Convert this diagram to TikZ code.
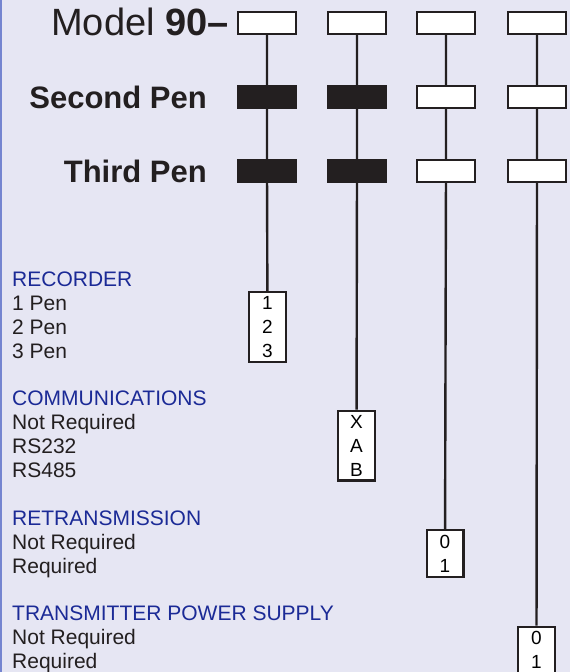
\documentclass[tikz,border=0pt]{standalone}
\usepackage{fontspec}
\setmainfont{Liberation Sans}
\usetikzlibrary{positioning}
\definecolor{pagebg}{HTML}{E6E6F3}
\definecolor{ink}{HTML}{231F20}
\definecolor{headblue}{HTML}{1B2A96}
\definecolor{edgeblue}{HTML}{7585D0}
\tikzset
{
  slot/.style={draw=ink,line width=2.4pt,fill=white,minimum width=57.6pt,minimum height=21.6pt,inner sep=0pt},
  slotfixed/.style={slot,fill=ink},
  code/.style={draw=ink,line width=2.4pt,fill=white,minimum width=36.6pt,inner sep=0pt,align=center,
    font=\fontsize{19}{24}\selectfont},
  link/.style={draw=ink,line width=2.4pt},
  group/.style={anchor=base west,inner sep=0pt,align=left,text=ink,font=\fontsize{21}{23.7}\selectfont},
  title/.style={anchor=base east,inner sep=0pt,text=ink}
}

\begin{document}
\begin{tikzpicture}[x=1pt,y=-1pt]

    % Page and its left edge
    \fill[pagebg] (0,0) rectangle (570,672);
    \useasboundingbox (0,0) rectangle (570,672);
    \draw[edgeblue,line width=1.5pt] (0.75,0) -- (0.75,672);

    % Titles of the three rows
    \node[title,font=\fontsize{38}{38}\selectfont] (model) at (229,35) {Model \textbf{90--}};
    \node[title,font=\bfseries\fontsize{31}{31}\selectfont] (second) at (207,108) {Second Pen};
    \node[title,font=\bfseries\fontsize{31}{31}\selectfont] (third) at (207,182) {Third Pen};

    % First row: one box for each digit
    \node[slot] (top1) at (267,23) {};
    \node[slot] (top2) at (357,23) {};
    \node[slot] (top3) at (446,23) {};
    \node[slot] (top4) at (537,23) {};

    % Second pen row
    \node[slotfixed] (sec1) at (267,97) {};
    \node[slotfixed] (sec2) at (357,97) {};
    \node[slot] (sec3) at (446,97) {};
    \node[slot] (sec4) at (537,97) {};

    % Third pen row
    \node[slotfixed] (thr1) at (267,171) {};
    \node[slotfixed] (thr2) at (357,171) {};
    \node[slot] (thr3) at (446,171) {};
    \node[slot] (thr4) at (537,171) {};

    % Option codes
    \node[code,minimum height=69.6pt] (rec) at (267.5,327) {1\\2\\3};
    \node[code,minimum height=69.6pt] (com) at (356.5,445.5) {X\\A\\B};
    \node[code,minimum height=46.6pt] (ret) at (445,553.5) {0\\1};
    \node[code,minimum height=46.6pt] (psu) at (536.5,650) {0\\1};

    % Columns down to their codes
    \draw[link] (top1) -- (sec1) -- (thr1) -- (rec);
    \draw[link] (top2) -- (sec2) -- (thr2) -- (com);
    \draw[link] (top3) -- (sec3) -- (thr3) -- (ret);
    \draw[link] (top4) -- (sec4) -- (thr4) -- (psu);

    % Option lists (placed by the baseline of their last line)
    \node[group] (reclist) at (12,358) {\textcolor{headblue}{RECORDER}\\1 Pen\\2 Pen\\3 Pen};
    \node[group] (comlist) at (12,477) {\textcolor{headblue}{COMMUNICATIONS}\\Not Required\\RS232\\RS485};
    \node[group] (retlist) at (12,573) {\textcolor{headblue}{RETRANSMISSION}\\Not Required\\Required};
    \node[group] (psulist) at (12,668) {\textcolor{headblue}{TRANSMITTER POWER SUPPLY}\\Not Required\\Required};

\end{tikzpicture}
\end{document}
